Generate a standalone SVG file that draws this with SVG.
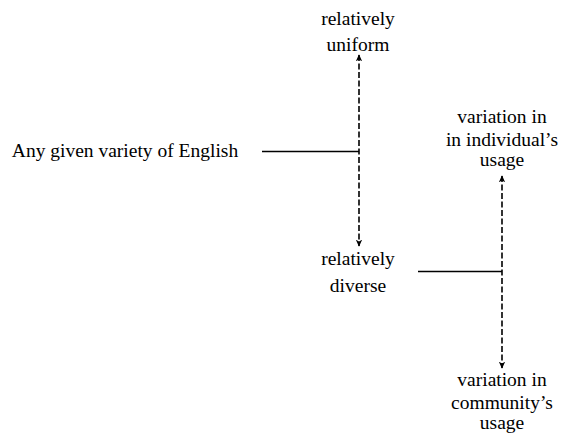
<svg xmlns="http://www.w3.org/2000/svg" width="568" height="441" viewBox="0 0 568 441">
<style>
text{font-family:"Liberation Serif","Times New Roman",serif;font-size:19.5px;fill:#000;text-anchor:middle}
.solid{stroke:#000;stroke-width:1.3;fill:none}
.dash{stroke:#000;stroke-width:1.6;fill:none;stroke-dasharray:6,2.5;marker-start:url(#ah);marker-end:url(#ah)}
</style>
<defs>
<marker id="ah" viewBox="0 0 10 10" refX="9" refY="5" markerWidth="7" markerHeight="8" orient="auto-start-reverse" markerUnits="userSpaceOnUse">
<path d="M0,0.5 L10,5 L0,9.5 L2.5,5 Z" fill="#000"/>
</marker>
</defs>
<rect width="568" height="441" fill="#fff"/>
<g id="connectors">
<line class="solid" x1="262" y1="151.5" x2="359" y2="151.5"/>
<line class="dash" x1="359" y1="55" x2="359" y2="246"/>
<line class="solid" x1="418" y1="271.5" x2="502" y2="271.5"/>
<line class="dash" x1="502" y1="176" x2="502" y2="368"/>
</g>
<g id="node-english"><text x="125" y="157">Any given variety of English</text></g>
<g id="node-uniform"><text x="358" y="25">relatively</text><text x="358" y="51">uniform</text></g>
<g id="node-diverse"><text x="358" y="265">relatively</text><text x="358" y="292">diverse</text></g>
<g id="node-individual"><text x="502" y="123">variation in</text><text x="502" y="146">in individual’s</text><text x="502" y="166">usage</text></g>
<g id="node-community"><text x="502" y="386">variation in</text><text x="502" y="409">community’s</text><text x="502" y="429">usage</text></g>
</svg>
